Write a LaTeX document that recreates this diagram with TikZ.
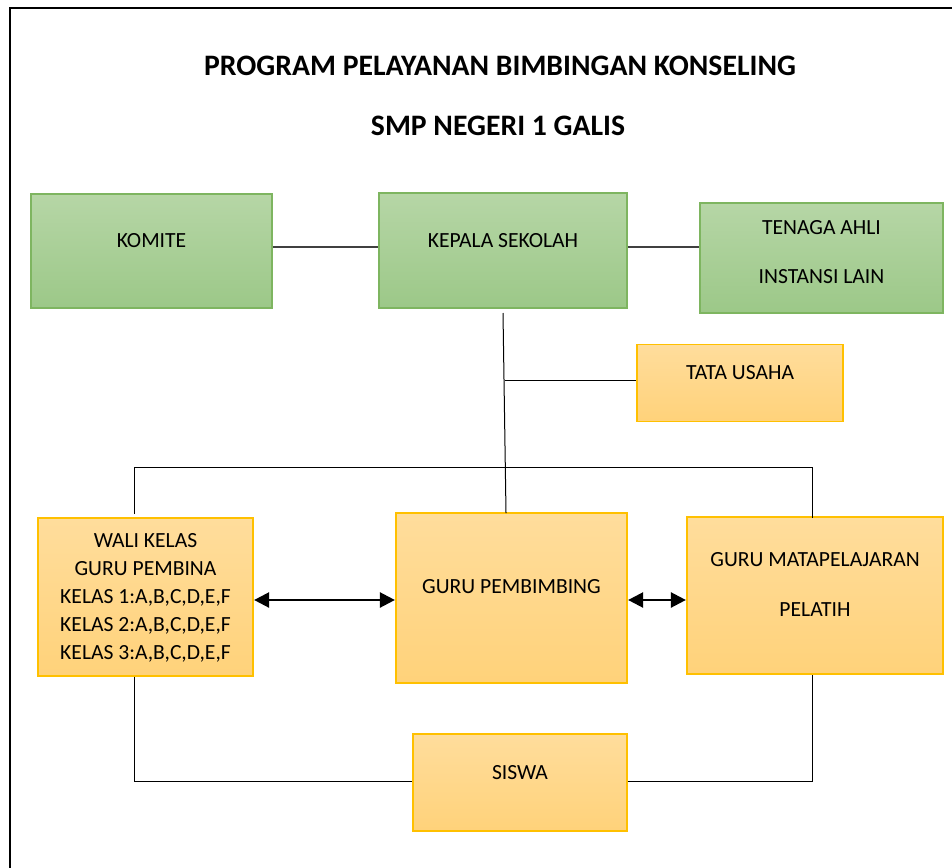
\documentclass[tikz,border=0pt]{standalone}
\usepackage{fontspec}
\setmainfont{Carlito}
\usetikzlibrary{arrows.meta}
\definecolor{gtop}{HTML}{B6D6A6}
\definecolor{gbot}{HTML}{9CC888}
\definecolor{gedge}{HTML}{7EB560}
\definecolor{otop}{HTML}{FFDD9C}
\definecolor{obot}{HTML}{FFD27A}
\definecolor{oedge}{HTML}{FFC000}
\definecolor{conn}{HTML}{404040}
\tikzset{
  greenbox/.style={draw=gedge, line width=1.5pt, top color=gtop, bottom color=gbot, inner sep=0pt},
  orangebox/.style={draw=oedge, line width=1.2pt, top color=otop, bottom color=obot, inner sep=0pt},
  lbl/.style={font=\fontsize{21.6}{28}\selectfont, align=center, inner sep=0pt},
  ttl/.style={font=\fontsize{29.7}{34}\selectfont\bfseries, inner sep=0pt},
  topconn/.style={draw=conn, line width=1.6pt},
  conn/.style={draw=black, line width=1pt},
  dbl/.style={draw=black, line width=2.4pt, {Triangle[length=15pt,width=15pt]}-{Triangle[length=15pt,width=15pt]}, shorten <=0.5pt, shorten >=0.5pt}
}
\begin{document}
\begin{tikzpicture}[x=1pt,y=-1pt]
\useasboundingbox (0,0) rectangle (952,867);
\begin{scope}
\clip (0,0) rectangle (952,867);
\draw[line width=2.2pt] (10,880) -- (10,8) -- (965,8);
\end{scope}

\node[ttl] (t1) at (500,66) {PROGRAM PELAYANAN BIMBINGAN KONSELING};
\node[ttl] (t2) at (498,126) {SMP NEGERI 1 GALIS};

% boxes
\node[greenbox, minimum width=241pt, minimum height=114pt] (komite) at (151.5,251) {};
\node[greenbox, minimum width=248pt, minimum height=115pt] (kepala) at (503,250.5) {};
\node[greenbox, minimum width=243pt, minimum height=110pt] (tenaga) at (821.5,258) {};
\node[orangebox, minimum width=206pt, minimum height=77pt] (tata) at (740,383) {};
\node[orangebox, minimum width=215pt, minimum height=158pt] (wali) at (145.5,597) {};
\node[orangebox, minimum width=231pt, minimum height=170pt] (pemb) at (511.5,598) {};
\node[orangebox, minimum width=256pt, minimum height=157pt] (mapel) at (815,595.5) {};
\node[orangebox, minimum width=214pt, minimum height=97pt] (siswa) at (520,782.5) {};

% texts
\node[lbl] (komite-t) at (151.5,241) {KOMITE};
\node[lbl] (kepala-t) at (503,241) {KEPALA SEKOLAH};
\node[lbl] (tenaga-t) at (821.5,252.5) {TENAGA AHLI\\[21pt]INSTANSI LAIN};
\node[lbl] (tata-t) at (740,373) {TATA USAHA};
\node[lbl] (wali-t) at (145.5,598) {WALI KELAS\\GURU PEMBINA\\KELAS 1:A,B,C,D,E,F\\KELAS 2:A,B,C,D,E,F\\KELAS 3:A,B,C,D,E,F};
\node[lbl] (pemb-t) at (511.5,587) {GURU PEMBIMBING};
\node[lbl] (mapel-t) at (815,584) {GURU MATAPELAJARAN\\[22pt]PELATIH};
\node[lbl] (siswa-t) at (520,773) {SISWA};

% coordinates
\coordinate (kbot) at (503,313);
\coordinate (tj) at (505,380.5);
\coordinate (tl) at (134,467);
\coordinate (tr) at (812,467);
\coordinate (tlb) at (134,514);
\coordinate (trb) at (812,518);
\coordinate (bl) at (134,781);
\coordinate (br) at (812,781);

% top connectors
\draw[topconn] (komite.east |- 0,247) -- (kepala.west |- 0,247);
\draw[topconn] (kepala.east |- 0,247) -- (tenaga.west |- 0,247);

% vertical from kepala to pembimbing
\draw[conn] (kbot) -- (506,513) coordinate (pemtop);
\draw[conn] (tj) -- (tata.west |- tj);

% distribution line
\draw[conn] (tlb) -- (tl) -- (tr) -- (trb);

% bottom loop
\draw[conn] (wali.south -| bl) -- (bl) -- (siswa.west |- bl);
\draw[conn] (siswa.east |- br) -- (br) -- (mapel.south -| br);

% arrows
\draw[dbl] (wali.east |- 0,600) -- (pemb.west |- 0,600);
\draw[dbl] (pemb.east |- 0,600) -- (mapel.west |- 0,600);
\end{tikzpicture}
\end{document}
